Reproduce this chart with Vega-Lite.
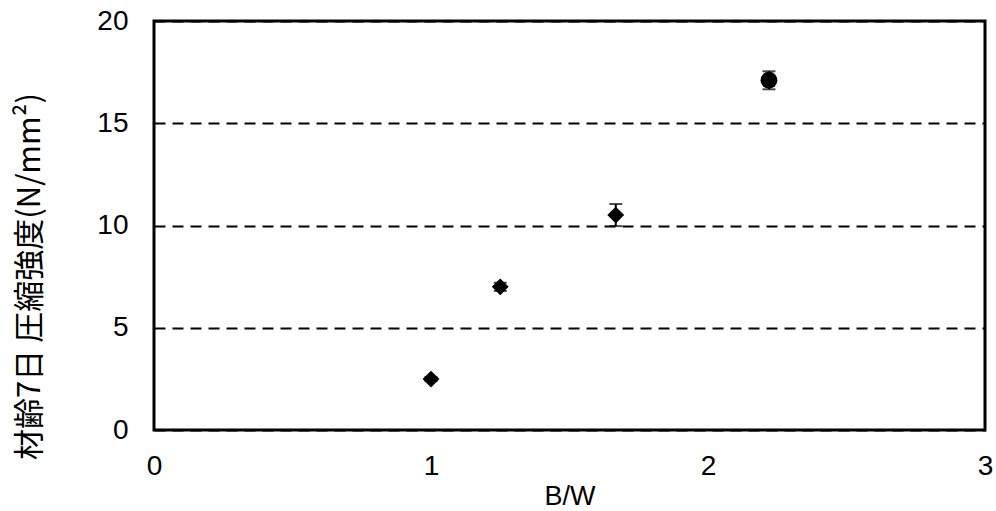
{
  "$schema": "https://vega.github.io/schema/vega-lite/v6.json",
  "width": 831,
  "height": 409,
  "autosize": {"type": "none"},
  "padding": {"left": 154, "top": 21, "right": 11, "bottom": 81},
  "background": "white",
  "config": {
    "view": {"stroke": "black", "strokeWidth": 3},
    "axis": {"labelFont": "Liberation Sans", "labelColor": "black", "titleColor": "black", "domain": false, "ticks": false}
  },
  "data": {
    "values": [
      {"bw": 1.0, "strength": 2.49, "err": 0.1, "shape": "diamond"},
      {"bw": 1.25, "strength": 7.0, "err": 0.2, "shape": "diamond"},
      {"bw": 1.667, "strength": 10.51, "err": 0.54, "shape": "diamond"},
      {"bw": 2.22, "strength": 17.1, "err": 0.44, "shape": "circle"}
    ]
  },
  "encoding": {
    "x": {
      "field": "bw", "type": "quantitative",
      "scale": {"domain": [0, 3], "nice": false},
      "axis": {"values": [0, 1, 2, 3], "format": "d", "grid": false, "labelFontSize": 28, "labelPadding": 22, "labelFlush": false,
               "title": "B/W", "titleFont": "Liberation Sans", "titleFontSize": 27, "titleFontWeight": "normal",
               "titleY": 74, "titleBaseline": "alphabetic"}
    },
    "y": {
      "field": "strength", "type": "quantitative",
      "scale": {"domain": [0, 20], "nice": false},
      "axis": {"values": [0, 5, 10, 15, 20], "format": "d", "grid": true, "gridColor": "black", "gridWidth": 2, "gridDash": [11, 7], "gridOpacity": 1,
               "labelFontSize": 28, "labelPadding": 26,
               "title": "材齢7日 圧縮強度(N/mm²)", "titleFont": "Noto Sans CJK JP", "titleFontSize": 31, "titleFontWeight": "normal",
               "titleX": -124, "titleY": 255, "titleAlign": "center", "titleBaseline": "middle", "titleAngle": -90}
    }
  },
  "layer": [
    {
      "mark": {"type": "errorbar", "ticks": {"size": 13, "thickness": 2, "color": "black"}, "rule": {"strokeWidth": 2, "color": "black"}},
      "encoding": {
        "yError": {"field": "err"}
      }
    },
    {
      "mark": {"type": "point", "filled": true, "opacity": 1, "color": "black", "size": 285},
      "encoding": {
        "shape": {"field": "shape", "type": "nominal", "scale": {"domain": ["diamond", "circle"], "range": ["diamond", "circle"]}, "legend": null}
      }
    }
  ]
}
